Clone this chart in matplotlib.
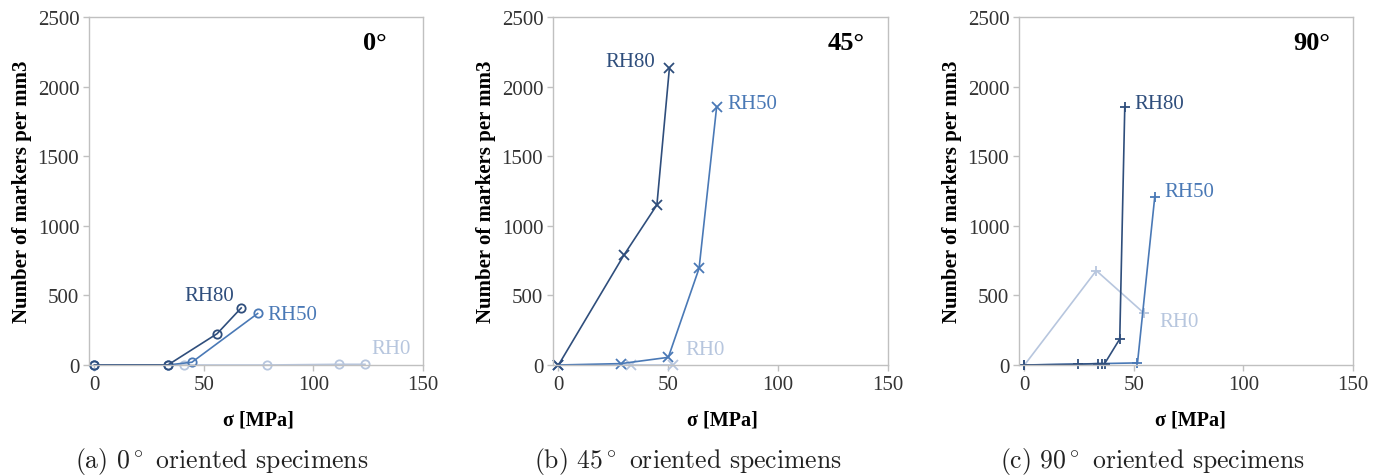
import matplotlib
matplotlib.use("Agg")
import matplotlib.pyplot as plt

plt.rcParams["mathtext.fontset"] = "cm"

# colours of the three humidity series
c80 = "#2f4e7c"
c50 = "#4a79b6"
c0 = "#b7c6de"

# 0 deg specimens
x0_rh80 = [0, 33.5, 56, 67]
y0_rh80 = [0, 0, 225, 410]
x0_rh50 = [0, 33.5, 44.5, 74.5]
y0_rh50 = [0, 0, 20, 370]
x0_rh0 = [0, 41, 79, 111.5, 123.5]
y0_rh0 = [0, 0, 0, 5, 5]

# 45 deg specimens
x45_rh80 = [0, 29.8, 44.8, 50.5]
y45_rh80 = [0, 790, 1150, 2135]
x45_rh50 = [0, 28.4, 50, 64, 72]
y45_rh50 = [0, 10, 55, 695, 1855]
x45_rh0 = [0, 33, 52]
y45_rh0 = [0, 0, 0]

# 90 deg specimens
x90_rh80 = [0, 24.4, 33.6, 35.5, 36.6, 43.5, 45.8]
y90_rh80 = [0, 5, 10, 10, 10, 187, 1855]
x90_rh50 = [0, 51.6, 59.5]
y90_rh50 = [0, 15, 1210]
x90_rh0 = [0, 32.8, 54.6]
y90_rh0 = [0, 678, 372]

panels = [
    {"title": "0°", "marker": "o", "caption": r"(a) 0$^\circ$ oriented specimens",
     "series": [(x0_rh0, y0_rh0, c0), (x0_rh50, y0_rh50, c50), (x0_rh80, y0_rh80, c80)],
     "labels": [("RH80", 41, 500, c80), ("RH50", 79, 360, c50), ("RH0", 126.5, 115, c0)],
     "left": 89, "right": 423, "cap": 222, "xlab": 258},
    {"title": "45°", "marker": "x", "caption": r"(b) 45$^\circ$ oriented specimens",
     "series": [(x45_rh0, y45_rh0, c0), (x45_rh50, y45_rh50, c50), (x45_rh80, y45_rh80, c80)],
     "labels": [("RH80", 21.4, 2177, c80), ("RH50", 77, 1882, c50), ("RH0", 57.7, 108, c0)],
     "left": 553, "right": 888, "cap": 688, "xlab": 722},
    {"title": "90°", "marker": "+", "caption": r"(c) 90$^\circ$ oriented specimens",
     "series": [(x90_rh0, y90_rh0, c0), (x90_rh50, y90_rh50, c50), (x90_rh80, y90_rh80, c80)],
     "labels": [("RH80", 50.3, 1875, c80), ("RH50", 64, 1243, c50), ("RH0", 61.8, 316, c0)],
     "left": 1019, "right": 1353, "cap": 1152, "xlab": 1190},
]

W, H = 1386, 477
fig = plt.figure(figsize=(W / 100, H / 100), dpi=100)
serif = ["Liberation Serif", "DejaVu Serif"]

for p in panels:
    ax = fig.add_axes([p["left"] / W, (H - 366) / H, (p["right"] - p["left"]) / W, 348 / H])
    for xs, ys, col in p["series"]:
        if p["marker"] == "o":
            ax.plot(xs, ys, color=col, lw=1.2, marker="o", ms=6, mfc="none", mew=1.3, clip_on=False)
        else:
            ax.plot(xs, ys, color=col, lw=1.2, marker=p["marker"], ms=7, mew=1.3, clip_on=False)
    for txt, tx, ty, col in p["labels"]:
        ax.text(tx, ty, txt, color=col, fontsize=15, family=serif, va="center", ha="left")
    ax.text(122.5, 2320, p["title"], fontsize=19, fontweight="bold", family=serif, va="center", ha="left")

    ax.set_xlim(-2.5, 150)
    ax.set_ylim(0, 2500)
    ax.set_xticks([0, 50, 100, 150])
    ax.set_yticks([0, 500, 1000, 1500, 2000, 2500])
    for s in ax.spines.values():
        s.set_color("#c0c0c0")
        s.set_linewidth(1.0)
    ax.tick_params(direction="out", length=4, width=1, color="#c0c0c0", labelsize=15, pad=3)
    for lab in ax.get_xticklabels() + ax.get_yticklabels():
        lab.set_family(serif)
        lab.set_color("#333333")
    ax.set_ylabel("Number of markers per mm3", fontsize=15, fontweight="bold", family=serif, labelpad=4)

    fig.text(p["xlab"] / W, 1 - 421 / H, "σ [MPa]", fontsize=14.5, fontweight="bold",
             family=serif, ha="center", va="center")
    fig.text(p["cap"] / W, 1 - 462 / H, p["caption"], fontsize=18.5,
             family="cmr10", ha="center", va="center", color="#222222")

fig.savefig("out.png", dpi=100)
